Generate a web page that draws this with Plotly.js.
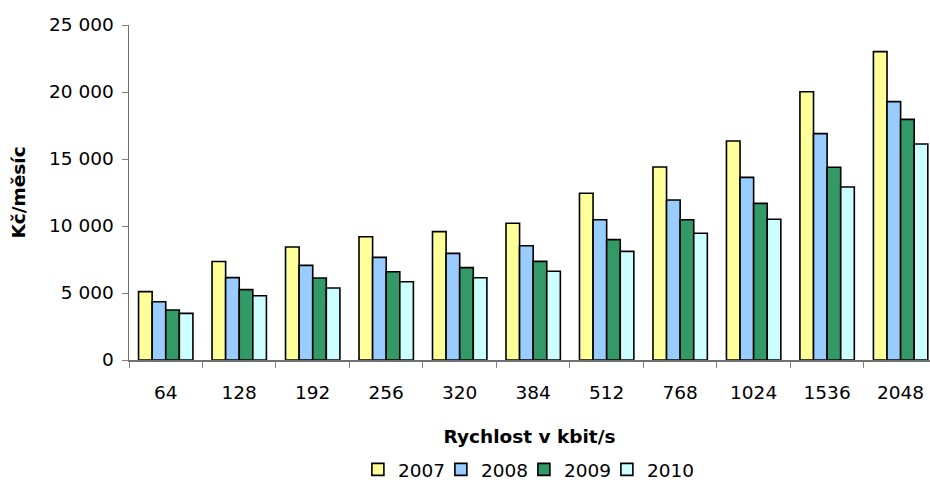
<!DOCTYPE html>
<html>
<head>
<meta charset="utf-8">
<script src="https://cdn.plot.ly/plotly-3.0.1.min.js"></script>
<style>html,body{margin:0;padding:0;background:#fff;}#chart{width:930px;height:486px;}</style>
</head>
<body>
<div id="chart"></div>
<script>
const categories = ["64","128","192","256","320","384","512","768","1024","1536","2048"];
const years = ["2007","2008","2009","2010"];
const v2007 = [5100, 7350, 8430, 9200, 9580, 10200, 12440, 14400, 16340, 20020, 23010];
const v2008 = [4350, 6150, 7060, 7660, 7960, 8530, 10470, 11940, 13630, 16890, 19280];
const v2009 = [3730, 5250, 6120, 6590, 6890, 7360, 8980, 10470, 11690, 14380, 17960];
const v2010 = [3480, 4800, 5370, 5840, 6140, 6620, 8110, 9460, 10500, 12910, 16120];
const colors = ["#FFFF99", "#99CCFF", "#339966", "#CCFFFF"];
const series = [v2007, v2008, v2009, v2010];
const yTickVals = [0, 5000, 10000, 15000, 20000, 25000];
const yTickText = ["0", "5 000", "10 000", "15 000", "20 000", "25 000"];

const traces = series.map((vals, i) => ({
  type: "bar",
  name: years[i],
  x: categories,
  y: vals,
  marker: {color: colors[i], line: {color: "#000000", width: 1.6}},
  hoverinfo: "skip"
}));

const FS = 18.5;
const layout = {
  width: 930, height: 486,
  margin: {l: 129, r: 0, t: 25, b: 126, autoexpand: false},
  paper_bgcolor: "#ffffff", plot_bgcolor: "#ffffff",
  font: {family: "DejaVu Sans, sans-serif", size: FS, color: "#000000"},
  barmode: "group",
  bargap: 0.26,
  bargroupgap: 0,
  showlegend: true,
  legend: {orientation: "h", x: 0.493, xanchor: "center", y: -0.328, yanchor: "middle",
           font: {size: FS}, itemwidth: 30, tracegroupgap: 0,
           entrywidth: 38, entrywidthmode: "pixels"},
  xaxis: {
    type: "category",
    range: [-0.5, 10.4],
    showline: true, linecolor: "#707070", linewidth: 1.5,
    ticks: "outside", tickson: "boundaries", ticklen: 6, tickcolor: "#808080",
    ticklabelstandoff: 15,
    showgrid: false, zeroline: false,
    title: {text: "<b>Rychlost v kbit/s</b>", font: {size: FS}, standoff: 28}
  },
  yaxis: {
    range: [0, 25000],
    tickvals: yTickVals,
    ticktext: yTickText,
    showline: true, linecolor: "#707070", linewidth: 1.5,
    ticks: "outside", ticklen: 6, tickcolor: "#808080",
    ticklabelstandoff: 4,
    showgrid: false, zeroline: false,
    title: {text: "<b>Kč/měsíc</b>", font: {size: FS}, standoff: 18}
  }
};

Plotly.newPlot("chart", traces, layout, {staticPlot: true, displayModeBar: false}).then(function (gd) {
  // let the last legend label show in full instead of being clipped by the legend box
  gd.querySelectorAll(".legend .scrollbox, .legend").forEach(function (el) {
    el.removeAttribute("clip-path");
  });
});
</script>
</body>
</html>
